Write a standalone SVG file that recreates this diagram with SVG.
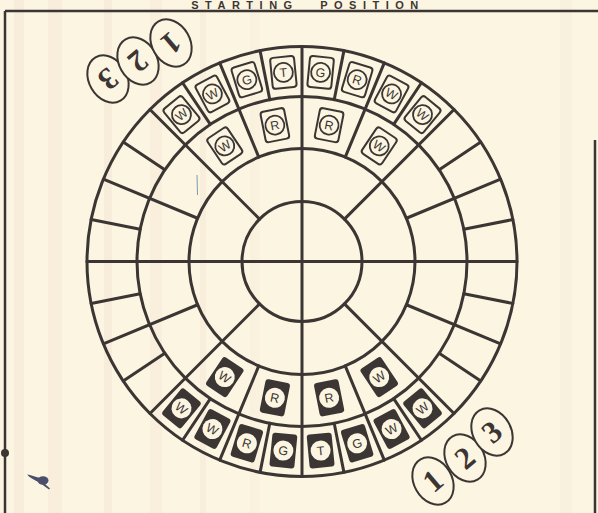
<svg xmlns="http://www.w3.org/2000/svg" width="598" height="513" viewBox="0 0 598 513">
<style>
.ln{stroke:#3b3634;stroke-width:3;fill:none;stroke-linecap:round}
.fr{stroke:#3b3634;stroke-width:2.5;fill:none}
.tw rect{fill:#fbf5e1;stroke:#3b3634;stroke-width:2}
.tw circle{fill:none;stroke:#3b3634;stroke-width:1.8}
.tw text{fill:#3b3634}
.td rect{fill:#3b3634}
.td circle{fill:#fbf5e1}
.td text{fill:#3b3634}
.tile text{font-family:"Liberation Sans",Arial,sans-serif;font-size:12.5px;text-anchor:middle}
.ov ellipse{fill:#fbf5e1;stroke:#3b3634;stroke-width:2}
.ov text{font-family:"Liberation Serif","Times New Roman",serif;font-weight:bold;font-size:31px;fill:#3b3634;text-anchor:middle}
.title{font-family:"Liberation Sans",Arial,sans-serif;font-weight:bold;font-size:11px;fill:#3b3634;letter-spacing:6.5px;word-spacing:12px;text-anchor:middle}
</style>
<rect width="598" height="513" fill="#fbf5e1"/>
<g id="stripes" opacity="0.25">
<rect x="14" y="0" width="10" height="513" fill="#f3d9c8"/>
<rect x="48" y="0" width="14" height="513" fill="#f5dccb"/>
<rect x="104" y="0" width="8" height="513" fill="#f1d6c6"/>
<rect x="150" y="0" width="12" height="513" fill="#f6dfcf"/>
<rect x="200" y="0" width="6" height="513" fill="#f3dccc"/>
<rect x="250" y="0" width="10" height="513" fill="#f7e6d6"/>
<rect x="560" y="0" width="12" height="513" fill="#f0e8d5"/>
</g>
<text class="title" x="308" y="8.5">STARTING POSITION</text>
<g id="frame">
<line class="fr" x1="5" y1="11" x2="598" y2="11"/>
<line class="fr" x1="5" y1="11" x2="5" y2="513"/>
<line class="fr" x1="595" y1="140" x2="595" y2="513"/>
<circle cx="5" cy="453" r="4" fill="#3b3634"/>
</g>
<g id="marks" fill="#4b4f6b">
<path d="M27,474.5 C31,475 35,476.5 40,478 L40,483 C35,480 30,478 27,474.5 Z"/>
<ellipse cx="43" cy="480.5" rx="5.5" ry="4.2"/>
<path d="M44,483 L50,488.5 L49,489.5 L42,484.5 Z"/>
<line x1="197" y1="175" x2="197.5" y2="195" stroke="#7a9ab5" stroke-width="1"/>
</g>
<g id="board">
<circle class="ln" cx="302" cy="261.5" r="215"/>
<circle class="ln" cx="302" cy="261.5" r="165"/>
<circle class="ln" cx="302" cy="261.5" r="113"/>
<circle class="ln" cx="302" cy="261.5" r="60"/>
<line class="ln" x1="87" y1="261.5" x2="517" y2="261.5"/>
<line class="ln" x1="302" y1="46.5" x2="302" y2="476.5"/>
<line class="ln" x1="344.43" y1="219.07" x2="454.03" y2="109.47"/>
<line class="ln" x1="259.57" y1="219.07" x2="149.97" y2="109.47"/>
<line class="ln" x1="259.57" y1="303.93" x2="149.97" y2="413.53"/>
<line class="ln" x1="344.43" y1="303.93" x2="454.03" y2="413.53"/>
<line class="ln" x1="406.40" y1="218.26" x2="500.63" y2="179.22"/>
<line class="ln" x1="345.24" y1="157.10" x2="384.28" y2="62.87"/>
<line class="ln" x1="258.76" y1="157.10" x2="219.72" y2="62.87"/>
<line class="ln" x1="197.60" y1="218.26" x2="103.37" y2="179.22"/>
<line class="ln" x1="197.60" y1="304.74" x2="103.37" y2="343.78"/>
<line class="ln" x1="258.76" y1="365.90" x2="219.72" y2="460.13"/>
<line class="ln" x1="345.24" y1="365.90" x2="384.28" y2="460.13"/>
<line class="ln" x1="406.40" y1="304.74" x2="500.63" y2="343.78"/>
<line class="ln" x1="463.83" y1="229.31" x2="512.87" y2="219.56"/>
<line class="ln" x1="439.19" y1="169.83" x2="480.77" y2="142.05"/>
<line class="ln" x1="393.67" y1="124.31" x2="421.45" y2="82.73"/>
<line class="ln" x1="334.19" y1="99.67" x2="343.94" y2="50.63"/>
<line class="ln" x1="269.81" y1="99.67" x2="260.06" y2="50.63"/>
<line class="ln" x1="210.33" y1="124.31" x2="182.55" y2="82.73"/>
<line class="ln" x1="164.81" y1="169.83" x2="123.23" y2="142.05"/>
<line class="ln" x1="140.17" y1="229.31" x2="91.13" y2="219.56"/>
<line class="ln" x1="140.17" y1="293.69" x2="91.13" y2="303.44"/>
<line class="ln" x1="164.81" y1="353.17" x2="123.23" y2="380.95"/>
<line class="ln" x1="210.33" y1="398.69" x2="182.55" y2="440.27"/>
<line class="ln" x1="269.81" y1="423.33" x2="260.06" y2="472.37"/>
<line class="ln" x1="334.19" y1="423.33" x2="343.94" y2="472.37"/>
<line class="ln" x1="393.67" y1="398.69" x2="421.45" y2="440.27"/>
<line class="ln" x1="439.19" y1="353.17" x2="480.77" y2="380.95"/>
<line class="ln" x1="463.83" y1="293.69" x2="512.87" y2="303.44"/>
</g>
<g id="top-tiles">
<g id="top-o1" class="tile tw" transform="translate(181.47,114.63) rotate(-39.375)"><rect x="-12" y="-15.5" width="24" height="31" rx="3"/><circle r="9.5"/><text y="4.5">W</text></g>
<g id="top-o2" class="tile tw" transform="translate(212.43,93.94) rotate(-28.125)"><rect x="-12" y="-15.5" width="24" height="31" rx="3"/><circle r="9.5"/><text y="4.5">W</text></g>
<g id="top-o3" class="tile tw" transform="translate(246.85,79.68) rotate(-16.875)"><rect x="-12" y="-15.5" width="24" height="31" rx="3"/><circle r="9.5"/><text y="4.5">G</text></g>
<g id="top-o4" class="tile tw" transform="translate(283.38,72.42) rotate(-5.625)"><rect x="-12" y="-15.5" width="24" height="31" rx="3"/><circle r="9.5"/><text y="4.5">T</text></g>
<g id="top-o5" class="tile tw" transform="translate(320.62,72.42) rotate(5.625)"><rect x="-12" y="-15.5" width="24" height="31" rx="3"/><circle r="9.5"/><text y="4.5">G</text></g>
<g id="top-o6" class="tile tw" transform="translate(357.15,79.68) rotate(16.875)"><rect x="-12" y="-15.5" width="24" height="31" rx="3"/><circle r="9.5"/><text y="4.5">R</text></g>
<g id="top-o7" class="tile tw" transform="translate(391.57,93.94) rotate(28.125)"><rect x="-12" y="-15.5" width="24" height="31" rx="3"/><circle r="9.5"/><text y="4.5">W</text></g>
<g id="top-o8" class="tile tw" transform="translate(422.53,114.63) rotate(39.375)"><rect x="-12" y="-15.5" width="24" height="31" rx="3"/><circle r="9.5"/><text y="4.5">W</text></g>
<g id="top-i1" class="tile tw" transform="translate(224.78,145.93) rotate(-33.75)"><rect x="-12" y="-15.5" width="24" height="31" rx="3"/><circle r="9.5"/><text y="4.5">W</text></g>
<g id="top-i2" class="tile tw" transform="translate(274.88,125.17) rotate(-11.25)"><rect x="-12" y="-15.5" width="24" height="31" rx="3"/><circle r="9.5"/><text y="4.5">R</text></g>
<g id="top-i3" class="tile tw" transform="translate(329.12,125.17) rotate(11.25)"><rect x="-12" y="-15.5" width="24" height="31" rx="3"/><circle r="9.5"/><text y="4.5">R</text></g>
<g id="top-i4" class="tile tw" transform="translate(379.22,145.93) rotate(33.75)"><rect x="-12" y="-15.5" width="24" height="31" rx="3"/><circle r="9.5"/><text y="4.5">W</text></g>
</g>
<g id="bottom-tiles">
<g id="bot-o1" class="tile td" transform="translate(181.47,408.37) rotate(39.375)"><rect x="-12.5" y="-17" width="25" height="34" rx="3"/><circle r="10"/><text y="4.5">W</text></g>
<g id="bot-o2" class="tile td" transform="translate(212.43,429.06) rotate(28.125)"><rect x="-12.5" y="-17" width="25" height="34" rx="3"/><circle r="10"/><text y="4.5">W</text></g>
<g id="bot-o3" class="tile td" transform="translate(246.85,443.32) rotate(16.875)"><rect x="-12.5" y="-17" width="25" height="34" rx="3"/><circle r="10"/><text y="4.5">R</text></g>
<g id="bot-o4" class="tile td" transform="translate(283.38,450.58) rotate(5.625)"><rect x="-12.5" y="-17" width="25" height="34" rx="3"/><circle r="10"/><text y="4.5">G</text></g>
<g id="bot-o5" class="tile td" transform="translate(320.62,450.58) rotate(-5.625)"><rect x="-12.5" y="-17" width="25" height="34" rx="3"/><circle r="10"/><text y="4.5">T</text></g>
<g id="bot-o6" class="tile td" transform="translate(357.15,443.32) rotate(-16.875)"><rect x="-12.5" y="-17" width="25" height="34" rx="3"/><circle r="10"/><text y="4.5">G</text></g>
<g id="bot-o7" class="tile td" transform="translate(391.57,429.06) rotate(-28.125)"><rect x="-12.5" y="-17" width="25" height="34" rx="3"/><circle r="10"/><text y="4.5">W</text></g>
<g id="bot-o8" class="tile td" transform="translate(422.53,408.37) rotate(-39.375)"><rect x="-12.5" y="-17" width="25" height="34" rx="3"/><circle r="10"/><text y="4.5">W</text></g>
<g id="bot-i1" class="tile td" transform="translate(224.78,377.07) rotate(33.75)"><rect x="-12.5" y="-17" width="25" height="34" rx="3"/><circle r="10"/><text y="4.5">W</text></g>
<g id="bot-i2" class="tile td" transform="translate(274.88,397.83) rotate(11.25)"><rect x="-12.5" y="-17" width="25" height="34" rx="3"/><circle r="10"/><text y="4.5">R</text></g>
<g id="bot-i3" class="tile td" transform="translate(329.12,397.83) rotate(-11.25)"><rect x="-12.5" y="-17" width="25" height="34" rx="3"/><circle r="10"/><text y="4.5">R</text></g>
<g id="bot-i4" class="tile td" transform="translate(379.22,377.07) rotate(-33.75)"><rect x="-12.5" y="-17" width="25" height="34" rx="3"/><circle r="10"/><text y="4.5">W</text></g>
</g>
<g id="counters-top" class="ov">
<g id="top-c3" transform="translate(108,79)"><ellipse rx="19" ry="25" transform="rotate(-30)"/><text transform="rotate(140)" y="10">3</text></g>
<g id="top-c2" transform="translate(138,61)"><ellipse rx="19" ry="25" transform="rotate(-30)"/><text transform="rotate(140)" y="10">2</text></g>
<g id="top-c1" transform="translate(171,43)"><ellipse rx="19" ry="25" transform="rotate(-30)"/><text transform="rotate(140)" y="10">1</text></g>
</g>
<g id="counters-bottom" class="ov">
<g id="bot-c1" transform="translate(433,481)"><ellipse rx="19" ry="25" transform="rotate(-30)"/><text transform="rotate(-40)" y="10">1</text></g>
<g id="bot-c2" transform="translate(465,458)"><ellipse rx="19" ry="25" transform="rotate(-30)"/><text transform="rotate(-40)" y="10">2</text></g>
<g id="bot-c3" transform="translate(492,432)"><ellipse rx="19" ry="25" transform="rotate(-30)"/><text transform="rotate(-40)" y="10">3</text></g>
</g>
</svg>
